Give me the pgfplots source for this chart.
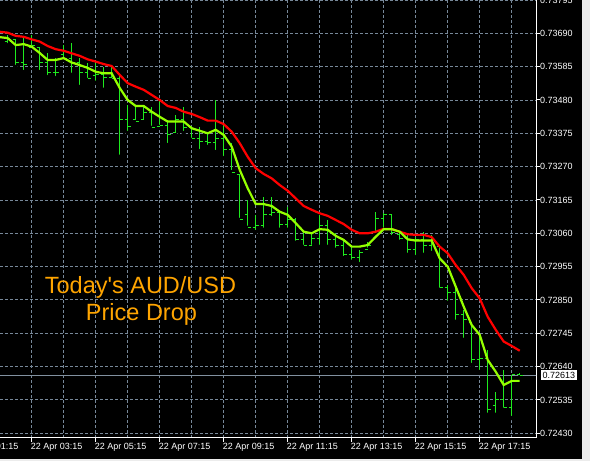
\documentclass[border=0pt]{standalone}
\usepackage{pgfplots}
\pgfplotsset{compat=1.18}
\usepackage{pgfplotstable}
\usepackage{fontspec}
\setmainfont{Liberation Sans}
\definecolor{gridc}{RGB}{119,136,153}
\definecolor{barc}{RGB}{30,235,30}
\definecolor{mafast}{RGB}{150,255,0}
\definecolor{maslow}{RGB}{255,0,0}
\definecolor{txtor}{RGB}{255,165,0}
\definecolor{framec}{RGB}{236,236,236}
\definecolor{lastc}{RGB}{130,145,160}
\pgfdeclareplotmark{ohlcL}{\pgfpathmoveto{\pgfpoint{-3bp}{0pt}}\pgfpathlineto{\pgfpoint{0pt}{0pt}}\pgfusepathqstroke}
\pgfdeclareplotmark{ohlcR}{\pgfpathmoveto{\pgfpoint{0pt}{0pt}}\pgfpathlineto{\pgfpoint{3bp}{0pt}}\pgfusepathqstroke}

\pgfplotstableread{
t o h l c
2.25 0.73682 0.73688 0.73653 0.73663
2.5 0.73663 0.73685 0.73653 0.73669
2.75 0.73669 0.73669 0.73584 0.73597
3.0 0.73597 0.73675 0.73568 0.73593
3.25 0.73644 0.73685 0.73644 0.73653
3.5 0.73644 0.73647 0.73568 0.73597
3.75 0.73597 0.73628 0.73552 0.73568
4.0 0.73568 0.73612 0.73549 0.73568
4.25 0.73622 0.73653 0.73606 0.73612
4.5 0.73612 0.73660 0.73559 0.73597
4.75 0.73597 0.73612 0.73521 0.73568
5.0 0.73568 0.73597 0.73543 0.73549
5.25 0.73556 0.73597 0.73534 0.73559
5.5 0.73559 0.73584 0.73512 0.73552
5.75 0.73552 0.73590 0.73543 0.73549
6.0 0.73549 0.73565 0.73301 0.73417
6.25 0.73417 0.73464 0.73376 0.73395
6.5 0.73417 0.73458 0.73411 0.73411
6.75 0.73417 0.73458 0.73411 0.73442
7.0 0.73442 0.73458 0.73392 0.73392
7.25 0.73395 0.73480 0.73395 0.73401
7.5 0.73401 0.73417 0.73338 0.73370
7.75 0.73376 0.73433 0.73370 0.73417
8.0 0.73417 0.73458 0.73376 0.73392
8.25 0.73392 0.73398 0.73354 0.73360
8.5 0.73360 0.73395 0.73319 0.73348
8.75 0.73348 0.73376 0.73332 0.73345
9.0 0.73345 0.73480 0.73316 0.73360
9.25 0.73360 0.73408 0.73297 0.73323
9.5 0.73323 0.73345 0.73253 0.73253
9.75 0.73244 0.73244 0.73102 0.73102
10.0 0.73118 0.73165 0.73077 0.73077
10.25 0.73077 0.73118 0.73064 0.73086
10.5 0.73086 0.73174 0.73071 0.73118
10.75 0.73118 0.73174 0.73108 0.73127
11.0 0.73127 0.73127 0.73071 0.73089
11.25 0.73089 0.73143 0.73071 0.73102
11.5 0.73102 0.73108 0.73030 0.73039
11.75 0.73039 0.73064 0.73017 0.73023
12.0 0.73023 0.73061 0.73017 0.73045
12.25 0.73045 0.73118 0.73017 0.73086
12.5 0.73086 0.73102 0.73017 0.73039
12.75 0.73039 0.73061 0.73008 0.73023
13.0 0.73023 0.73039 0.72982 0.72992
13.25 0.72992 0.73017 0.72970 0.72985
13.5 0.72985 0.73008 0.72963 0.73001
13.75 0.73008 0.73033 0.73008 0.73023
14.0 0.73064 0.73127 0.73061 0.73108
14.25 0.73108 0.73124 0.73071 0.73118
14.5 0.73118 0.73118 0.73048 0.73064
14.75 0.73055 0.73064 0.73033 0.73045
15.0 0.73045 0.73061 0.72992 0.73008
15.25 0.73008 0.73048 0.72985 0.73039
15.5 0.73039 0.73064 0.72992 0.73023
15.75 0.73023 0.73055 0.72998 0.73039
16.0 0.73017 0.73017 0.72882 0.72888
16.25 0.72888 0.72897 0.72841 0.72872
16.5 0.72872 0.72888 0.72781 0.72803
16.75 0.72803 0.72819 0.72724 0.72787
17.0 0.72778 0.72778 0.72645 0.72661
17.25 0.72661 0.72746 0.72623 0.72667
17.5 0.72667 0.72693 0.72488 0.72504
17.75 0.72519 0.72560 0.72488 0.72535
18.0 0.72535 0.72630 0.72504 0.72510
18.25 0.72510 0.72614 0.72478 0.72614
18.5 0.72614 0.72620 0.72607 0.72613
}\bars

\pgfplotstableread{
t v
2.25 0.73678
2.5 0.73675
2.75 0.73653
3.0 0.73656
3.25 0.73648
3.5 0.73628
3.75 0.73606
4.0 0.73606
4.25 0.73612
4.5 0.73598
4.75 0.73590
5.0 0.73581
5.25 0.73569
5.5 0.73564
5.75 0.73564
6.0 0.73518
6.25 0.73480
6.5 0.73461
6.75 0.73461
7.0 0.73443
7.25 0.73427
7.5 0.73412
7.75 0.73412
8.0 0.73412
8.25 0.73391
8.5 0.73383
8.75 0.73375
9.0 0.73386
9.25 0.73370
9.5 0.73333
9.75 0.73260
10.0 0.73202
10.25 0.73152
10.5 0.73152
10.75 0.73146
11.0 0.73128
11.25 0.73118
11.5 0.73092
11.75 0.73065
12.0 0.73060
12.25 0.73073
12.5 0.73071
12.75 0.73052
13.0 0.73039
13.25 0.73018
13.5 0.73018
13.75 0.73023
14.0 0.73049
14.25 0.73073
14.5 0.73073
14.75 0.73065
15.0 0.73041
15.25 0.73037
15.5 0.73037
15.75 0.73037
16.0 0.72981
16.25 0.72955
16.5 0.72892
16.75 0.72829
17.0 0.72771
17.25 0.72740
17.5 0.72661
17.75 0.72624
18.0 0.72582
18.25 0.72595
18.5 0.72595
}\fastma

\pgfplotstableread{
t v
2.25 0.73695
2.5 0.73692
2.75 0.73682
3.0 0.73679
3.25 0.73671
3.5 0.73664
3.75 0.73650
4.0 0.73640
4.25 0.73635
4.5 0.73627
4.75 0.73619
5.0 0.73608
5.25 0.73601
5.5 0.73593
5.75 0.73587
6.0 0.73559
6.25 0.73533
6.5 0.73522
6.75 0.73512
7.0 0.73496
7.25 0.73480
7.5 0.73461
7.75 0.73455
8.0 0.73443
8.25 0.73436
8.5 0.73426
8.75 0.73415
9.0 0.73415
9.25 0.73404
9.5 0.73380
9.75 0.73344
10.0 0.73301
10.25 0.73265
10.5 0.73247
10.75 0.73233
11.0 0.73212
11.25 0.73194
11.5 0.73170
11.75 0.73146
12.0 0.73134
12.25 0.73123
12.5 0.73115
12.75 0.73102
13.0 0.73089
13.25 0.73071
13.5 0.73060
13.75 0.73060
14.0 0.73065
14.25 0.73074
14.5 0.73073
14.75 0.73065
15.0 0.73057
15.25 0.73055
15.5 0.73055
15.75 0.73048
16.0 0.73018
16.25 0.72997
16.5 0.72960
16.75 0.72929
17.0 0.72887
17.25 0.72855
17.5 0.72797
17.75 0.72756
18.0 0.72719
18.25 0.72705
18.5 0.72690
}\slowma

\begin{document}
\begin{tikzpicture}
\useasboundingbox (0bp,0bp) rectangle (590bp,461bp);
\clip (0bp,0bp) rectangle (590bp,461bp);
\fill[framec] (0bp,0bp) rectangle (590bp,461bp);
\fill[black] (0bp,1.7bp) rectangle (582bp,461bp);
\begin{axis}[
  at={(0bp,23.3bp)}, anchor=south west,
  scale only axis, width=536bp, height=437.7bp,
  xmin=2.2594, xmax=19.009, ymin=0.72416, ymax=0.73795,
  clip mode=individual,
  axis x line*=bottom, axis y line*=right,
  axis line style={white, line width=1bp, -},
  tick align=outside, major tick length=4bp, minor tick length=0pt,
  tick style={white, line width=1bp},
  xtick={3.25,5.25,7.25,9.25,11.25,13.25,15.25,17.25},
  xticklabels={22 Apr 03:15,22 Apr 05:15,22 Apr 07:15,22 Apr 09:15,22 Apr 11:15,22 Apr 13:15,22 Apr 15:15,22 Apr 17:15},
  minor xtick={4.25,6.25,8.25,10.25,12.25,14.25,16.25,18.25},
  ytick={0.72430,0.72535,0.72640,0.72745,0.72850,0.72955,0.73060,0.73165,0.73270,0.73375,0.73480,0.73585,0.73690,0.73795},
  yticklabel pos=right,
  yticklabel style={/pgf/number format/.cd, fixed, fixed zerofill, precision=5, /tikz/.cd, anchor=west, inner sep=0pt, text=white, font=\fontsize{9bp}{10bp}\selectfont},
  xticklabel style={anchor=north west, inner sep=0pt, xshift=-1bp, yshift=-1bp, text=white, font=\fontsize{9bp}{10bp}\selectfont},
  /pgf/number format/assume math mode=true,
  scaled y ticks=false,
  grid=both,
  major grid style={gridc, line width=0.9bp, dash pattern=on 3bp off 2bp},
  minor grid style={gridc, line width=0.9bp, dash pattern=on 3bp off 2bp},
]
\addplot[lastc, line width=1bp, forget plot] coordinates {(2.0,0.72613) (19.2,0.72613)};
\addplot[only marks, mark=none, forget plot,
  error bars/.cd, y dir=plus, y explicit, error mark=none,
  error bar style={barc, line width=1bp}]
  table[x=t, y=l, y error expr=\thisrow{h}-\thisrow{l}] {\bars};
\addplot[only marks, mark=ohlcL, mark options={barc, line width=1bp}, forget plot] table[x=t, y=o] {\bars};
\addplot[only marks, mark=ohlcR, mark options={barc, line width=1bp}, forget plot] table[x=t, y=c] {\bars};
\addplot[maslow, line width=2.2bp, forget plot] table[x=t, y=v] {\slowma};
\addplot[mafast, line width=2.2bp, forget plot] table[x=t, y=v] {\fastma};
\node[anchor=north west, inner sep=0pt, xshift=-1bp, yshift=-5bp, text=white, font=\fontsize{9bp}{10bp}\selectfont] at (axis cs:1.25,0.72416) {22 Apr 01:15};
\node[anchor=base, text=txtor, inner sep=0pt, font=\fontsize{23.5bp}{28bp}\selectfont] at (axis cs:6.65,0.72871) {Today\textquotesingle s AUD/USD};
\node[anchor=base, text=txtor, inner sep=0pt, font=\fontsize{23.5bp}{28bp}\selectfont] at (axis cs:6.68,0.72785) {Price Drop};
\node[anchor=west, fill=white, text=black, inner xsep=1.5bp, inner ysep=2bp, xshift=5bp, font=\fontsize{9bp}{10bp}\selectfont] at (axis cs:19.009,0.72613) {0.72613};
\end{axis}
\end{tikzpicture}
\end{document}
